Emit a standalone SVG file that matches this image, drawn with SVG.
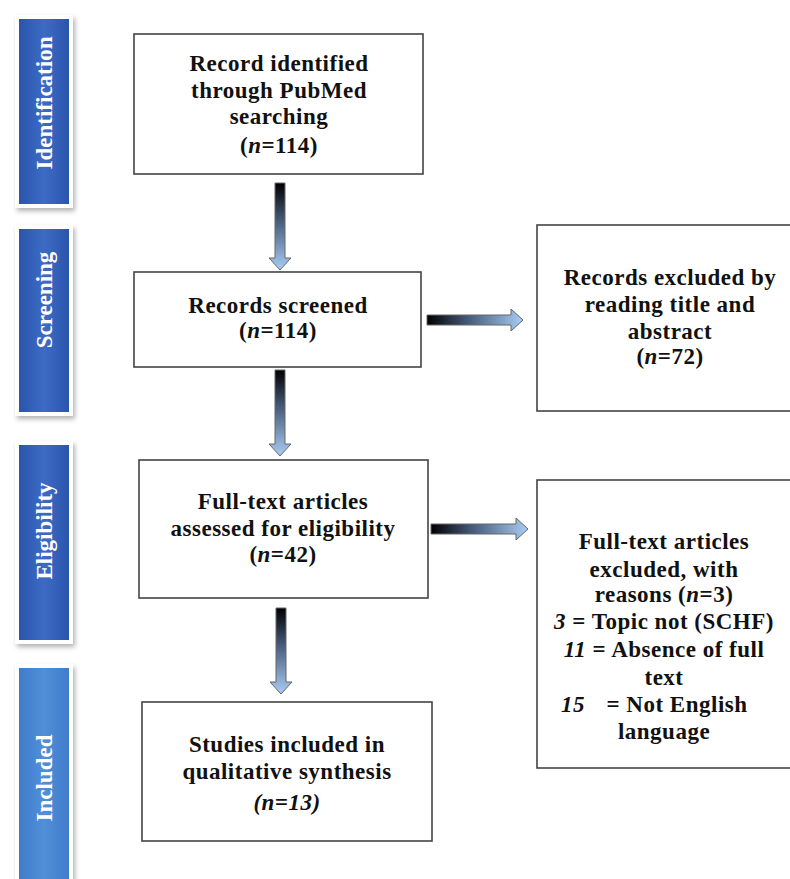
<svg xmlns="http://www.w3.org/2000/svg" width="790" height="879" viewBox="0 0 790 879">
<style>
.box{fill:#fff;stroke:#444;stroke-width:1.6}
.t{font-family:"Liberation Serif","Times New Roman",serif;font-weight:bold;font-size:23px;letter-spacing:0.5px;fill:#111;text-anchor:middle}
.i{font-style:italic}
.side{font-family:"Liberation Serif","Times New Roman",serif;font-weight:bold;font-size:23px;fill:#fff;text-anchor:middle}
.arr{stroke:#666;stroke-width:1}
</style>
<defs>
<linearGradient id="gv" x1="0" y1="0" x2="0" y2="1">
<stop offset="0" stop-color="#000"/>
<stop offset="0.45" stop-color="#4a5f80"/>
<stop offset="1" stop-color="#a9cdf4"/>
</linearGradient>
<linearGradient id="gh" x1="0" y1="0" x2="1" y2="0">
<stop offset="0" stop-color="#000"/>
<stop offset="0.45" stop-color="#4a5f80"/>
<stop offset="1" stop-color="#a9cdf4"/>
</linearGradient>
<linearGradient id="gb" x1="0" y1="0" x2="1" y2="0">
<stop offset="0" stop-color="#2a55ad"/>
<stop offset="0.5" stop-color="#3d6bc4"/>
<stop offset="1" stop-color="#2a55ad"/>
</linearGradient>
<linearGradient id="gl" x1="0" y1="0" x2="1" y2="0">
<stop offset="0" stop-color="#3f7bcb"/>
<stop offset="0.5" stop-color="#5190d8"/>
<stop offset="1" stop-color="#3f7bcb"/>
</linearGradient>
<filter id="sh" x="-30%" y="-10%" width="160%" height="120%">
<feDropShadow dx="2" dy="3" stdDeviation="2.5" flood-color="#000" flood-opacity="0.3"/>
</filter>
</defs>

<g id="stage-identification">
<rect x="15" y="15" width="58" height="193" fill="#fff" filter="url(#sh)"/>
<rect x="19" y="19" width="50" height="185" fill="url(#gb)"/>
<text class="side" transform="translate(52,103) rotate(-90)">Identification</text>
</g>
<g id="stage-screening">
<rect x="15" y="225" width="58" height="191" fill="#fff" filter="url(#sh)"/>
<rect x="19" y="229" width="50" height="183" fill="url(#gb)"/>
<text class="side" transform="translate(52,300) rotate(-90)">Screening</text>
</g>
<g id="stage-eligibility">
<rect x="15" y="441" width="58" height="203" fill="#fff" filter="url(#sh)"/>
<rect x="19" y="445" width="50" height="195" fill="url(#gb)"/>
<text class="side" transform="translate(52,531) rotate(-90)">Eligibility</text>
</g>
<g id="stage-included">
<rect x="15" y="664" width="58" height="230" fill="#fff" filter="url(#sh)"/>
<rect x="19" y="668" width="50" height="230" fill="url(#gl)"/>
<text class="side" transform="translate(52,778) rotate(-90)">Included</text>
</g>

<g id="connectors">
<path class="arr" fill="url(#gv)" d="M275,183 H285 V258 H291 L280,270 L269,258 H275 Z"/>
<path class="arr" fill="url(#gv)" d="M275,370 H285 V444 H291 L280,456 L269,444 H275 Z"/>
<path class="arr" fill="url(#gv)" d="M276,608 H286 V682 H292 L281,694 L270,682 H276 Z"/>
<path class="arr" fill="url(#gh)" d="M427,315 H511 V309 L523,320 L511,331 V325 H427 Z"/>
<path class="arr" fill="url(#gh)" d="M431,524 H516 V518 L528,529 L516,540 V534 H431 Z"/>
</g>

<g id="n1">
<rect class="box" x="134" y="34" width="289" height="140"/>
<text class="t" x="279" y="71">Record identified</text>
<text class="t" x="279" y="98">through PubMed</text>
<text class="t" x="279" y="124">searching</text>
<text class="t" x="279" y="153">(<tspan class="i">n</tspan>=114)</text>
</g>
<g id="n2">
<rect class="box" x="134" y="272" width="287" height="95"/>
<text class="t" x="278" y="313">Records screened</text>
<text class="t" x="278" y="338">(<tspan class="i">n</tspan>=114)</text>
</g>
<g id="n3">
<rect class="box" x="537" y="225" width="260" height="186"/>
<text class="t" x="670" y="285">Records excluded by</text>
<text class="t" x="670" y="312">reading title and</text>
<text class="t" x="670" y="339">abstract</text>
<text class="t" x="670" y="364">(<tspan class="i">n</tspan>=72)</text>
</g>
<g id="n4">
<rect class="box" x="139" y="460" width="289" height="138"/>
<text class="t" x="283" y="509">Full-text articles</text>
<text class="t" x="283" y="536">assessed for eligibility</text>
<text class="t" x="283" y="562">(<tspan class="i">n</tspan>=42)</text>
</g>
<g id="n5">
<rect class="box" x="537" y="480" width="260" height="288"/>
<text class="t" x="664" y="549">Full-text articles</text>
<text class="t" x="664" y="577">excluded, with</text>
<text class="t" x="664" y="602">reasons (<tspan class="i">n</tspan>=3)</text>
<text class="t" x="664" y="629"><tspan class="i">3</tspan> = Topic not (SCHF)</text>
<text class="t" x="664" y="657"><tspan class="i">11</tspan> = Absence of full</text>
<text class="t" x="664" y="685">text</text>
<text class="t" x="573" y="712"><tspan class="i">15</tspan></text>
<text class="t" x="677" y="712">= Not English</text>
<text class="t" x="664" y="739">language</text>
</g>
<g id="n6">
<rect class="box" x="142" y="702" width="290" height="139"/>
<text class="t" x="287" y="752">Studies included in</text>
<text class="t" x="287" y="779">qualitative synthesis</text>
<text class="t" x="287" y="810"><tspan class="i">(n=13)</tspan></text>
</g>
</svg>
